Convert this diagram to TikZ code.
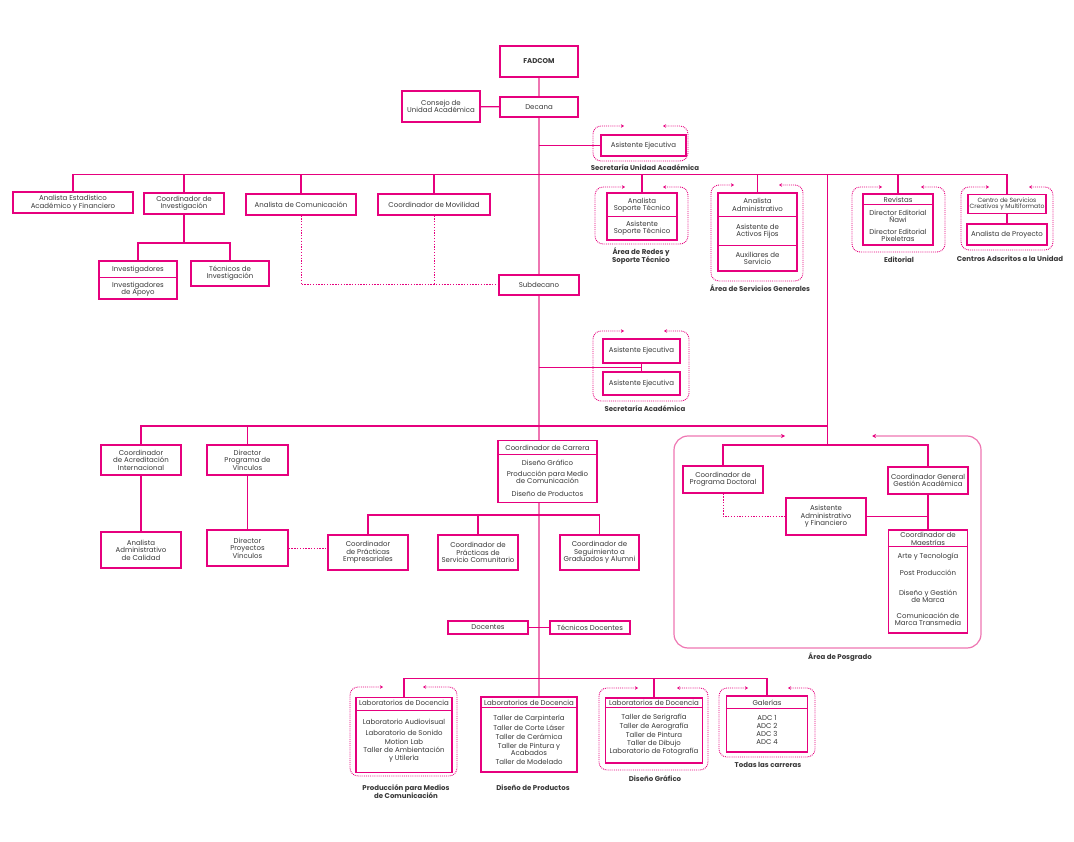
\documentclass[tikz,border=0pt]{standalone}
\usepackage{fontspec}
\setmainfont{Poppins}
\usetikzlibrary{arrows.meta,positioning}
\definecolor{fucsia}{RGB}{230,0,126}
\definecolor{rosa}{RGB}{238,118,178}
\newcommand{\cargo}{\fontsize{7}{7.4}\selectfont}
\newcommand{\cargochico}{\fontsize{6.1}{6.6}\selectfont}
\newcommand{\areafont}{\fontsize{7}{8}\selectfont\bfseries}

\begin{document}
\begin{tikzpicture}[
  x=1pt, y=-1pt,
  every node/.style={font=\cargo, text=black!78},
  puesto/.style={draw=fucsia, line width=1.2pt, fill=white, align=center, inner sep=1pt},
  texto/.style={align=center, inner sep=0pt},
  linea/.style={draw=fucsia, line width=1.1pt},
  tronco/.style={draw=rosa, line width=1.3pt},
  punteado/.style={draw=fucsia, line width=1pt, dash pattern=on 1.3pt off 1.5pt},
  marco/.style={draw=fucsia, line width=0.9pt, densely dotted, rounded corners=8pt, {Stealth[length=3pt,width=3.5pt]}-{Stealth[length=3pt,width=3.5pt]}},
  posgrado/.style={draw=rosa, line width=1.2pt, rounded corners=14pt, {Stealth[length=4pt,width=4pt,color=fucsia]}-{Stealth[length=4pt,width=4pt,color=fucsia]}},
  area/.style={font=\areafont, align=center, inner sep=0pt}
]
  \useasboundingbox (0,0) rectangle (1074,842);

  % Marcos punteados de las areas
  \draw[marco] (624,126) -- (593,126) -- (593,161) -- (688,161) -- (688,126) -- (663,126);
  \draw[marco] (625,187) -- (595,187) -- (595,244) -- (688,244) -- (688,187) -- (663,187);
  \draw[marco] (734,185) -- (711,185) -- (711,281) -- (803,281) -- (803,185) -- (779,185);
  \draw[marco] (882,187) -- (852,187) -- (852,252) -- (945,252) -- (945,187) -- (921,187);
  \draw[marco] (989,187) -- (961,187) -- (961,250) -- (1053,250) -- (1053,187) -- (1029,187);
  \draw[marco] (624,331) -- (593,331) -- (593,401) -- (689,401) -- (689,331) -- (664,331);
  \draw[marco] (383,687) -- (350,687) -- (350,776) -- (457,776) -- (457,687) -- (423,687);
  \draw[marco] (638,688) -- (599,688) -- (599,770) -- (708,770) -- (708,688) -- (677,688);
  \draw[marco] (748,688) -- (719,688) -- (719,757) -- (815,757) -- (815,688) -- (788,688);
  \draw[posgrado] (785,436) -- (674,436) -- (674,648) -- (981,648) -- (981,436) -- (872,436);

  % Decanato
  \node[puesto, minimum width=78, minimum height=31, font=\cargo\bfseries] (fadcom) at (539,61.5) {FADCOM};
  \node[puesto, minimum width=78, minimum height=20] (decana) at (539,107) {Decana};
  \node[puesto, minimum width=78, minimum height=31] (consejo) at (441,106.5) {Consejo de\\Unidad Académica};
  \node[puesto, minimum width=85, minimum height=21] (asisUA) at (643.5,145.5) {Asistente Ejecutiva};
  \node[area] (lblUA) at (645,168) {Secretaría Unidad Académica};

  % Primer nivel
  \node[puesto, minimum width=120, minimum height=21] (estad) at (73,202.5) {Analista Estadístico\\Académico y Financiero};
  \node[puesto, minimum width=80, minimum height=21] (coordInv) at (184,203.5) {Coordinador de\\Investigación};
  \node[puesto, minimum width=110, minimum height=21] (comunic) at (301,204.5) {Analista de Comunicación};
  \node[puesto, minimum width=112, minimum height=21] (movil) at (434,204.5) {Coordinador de Movilidad};

  \node[puesto, minimum width=70, minimum height=47] (redes) at (642,216.5) {};
  \draw[linea] (redes.west) -- (redes.east);
  \node[texto] (redes1) at (642,205) {Analista\\Soporte Técnico};
  \node[texto] (redes2) at (642,228.5) {Asistente\\Soporte Técnico};
  \node[area] (lblRedes) at (641,256) {Área de Redes y\\Soporte Técnico};

  \node[puesto, minimum width=79, minimum height=78] (servicios) at (757.5,232) {};
  \draw[linea] ([yshift=-24]servicios.north west) -- ([yshift=-24]servicios.north east);
  \draw[linea] ([yshift=-53]servicios.north west) -- ([yshift=-53]servicios.north east);
  \node[texto] (serv1) at (757.5,205) {Analista\\Administrativo};
  \node[texto] (serv2) at (757.5,231.5) {Asistente de\\Activos Fijos};
  \node[texto] (serv3) at (757.5,258.5) {Auxiliares de\\Servicio};
  \node[area] (lblServ) at (760,288) {Área de Servicios Generales};

  \node[puesto, minimum width=70, minimum height=51] (editorial) at (898,219.5) {};
  \draw[linea] ([yshift=-11]editorial.north west) -- ([yshift=-11]editorial.north east);
  \node[texto] (edit1) at (898,199.5) {Revistas};
  \node[texto] (edit2) at (898,216.5) {Director Editorial\\Ñawi};
  \node[texto] (edit3) at (898,235.5) {Director Editorial\\Pixeletras};
  \node[area] (lblEdit) at (899,260) {Editorial};

  \node[puesto, minimum width=78, minimum height=19, font=\cargochico] (centros1) at (1007,204) {Centro de Servicios\\Creativos y Multiformato};
  \node[puesto, minimum width=80, minimum height=21] (centros2) at (1007,234.5) {Analista de Proyecto};
  \node[area] (lblCentros) at (1010,259) {Centros Adscritos a la Unidad};

  % Investigacion
  \node[puesto, minimum width=78, minimum height=38] (investig) at (138,280) {};
  \draw[linea] ([yshift=-17]investig.north west) -- ([yshift=-17]investig.north east);
  \node[texto] (inv1) at (138,269.5) {Investigadores};
  \node[texto] (inv2) at (138,289) {Investigadores\\de Apoyo};
  \node[puesto, minimum width=78, minimum height=25] (tecInv) at (230,273.5) {Técnicos de\\Investigación};

  % Subdecanato
  \node[puesto, minimum width=80, minimum height=20] (subdecano) at (539,285) {Subdecano};
  \node[puesto, minimum width=77, minimum height=24] (asisAc1) at (641.5,351) {Asistente Ejecutiva};
  \node[puesto, minimum width=77, minimum height=23] (asisAc2) at (641.5,383.5) {Asistente Ejecutiva};
  \node[area] (lblAc) at (645,409) {Secretaría Académica};

  % Segundo nivel
  \node[puesto, minimum width=80, minimum height=30] (acredit) at (141,460) {Coordinador\\de Acreditación\\Internacional};
  \node[puesto, minimum width=80, minimum height=36] (calidad) at (141,550) {Analista\\Administrativo\\de Calidad};
  \node[puesto, minimum width=81, minimum height=30] (dirVinc) at (247.5,460) {Director\\Programa de\\Vínculos};
  \node[puesto, minimum width=81, minimum height=36] (dirProy) at (247.5,548) {Director\\Proyectos\\Vínculos};

  \node[puesto, minimum width=99, minimum height=62] (carrera) at (547.5,471.5) {};
  \draw[linea] ([yshift=-15]carrera.north west) -- ([yshift=-15]carrera.north east);
  \node[texto] (carr0) at (547.5,448) {Coordinador de Carrera};
  \node[texto] (carr1) at (547.5,462.5) {Diseño Gráfico};
  \node[texto] (carr2) at (547.5,477.5) {Producción para Medio\\de Comunicación};
  \node[texto] (carr3) at (547.5,493.5) {Diseño de Productos};

  \node[puesto, minimum width=80, minimum height=35] (empresariales) at (368,552.5) {Coordinador\\de Prácticas\\Empresariales};
  \node[puesto, minimum width=80, minimum height=35] (comunitario) at (478,552.5) {Coordinador de\\Prácticas de\\Servicio Comunitario};
  \node[puesto, minimum width=79, minimum height=35] (alumni) at (599.5,552.5) {Coordinador de\\Seguimiento a\\Graduados y Alumni};

  \node[puesto, minimum width=80, minimum height=13] (docentes) at (488,627.5) {Docentes};
  \node[puesto, minimum width=80, minimum height=13] (tecDoc) at (590,627.5) {Técnicos Docentes};

  % Laboratorios
  \node[puesto, minimum width=96, minimum height=75] (labProd) at (404,735) {};
  \draw[linea] ([yshift=-13.5]labProd.north west) -- ([yshift=-13.5]labProd.north east);
  \node[texto] (prod0) at (404,703) {Laboratorios de Docencia};
  \node[texto] (prod1) at (404,722) {Laboratorio Audiovisual};
  \node[texto] (prod2) at (404,732.5) {Laboratorio de Sonido};
  \node[texto] (prod3) at (404,742) {Motion Lab};
  \node[texto] (prod4) at (404,754.5) {Taller de Ambientación\\y Utilería};
  \node[area] (lblProd) at (406,792) {Producción para Medios\\de Comunicación};

  \node[puesto, minimum width=96, minimum height=75] (labDP) at (529,734.5) {};
  \draw[linea] ([yshift=-11]labDP.north west) -- ([yshift=-11]labDP.north east);
  \node[texto] (dp0) at (529,702.5) {Laboratorios de Docencia};
  \node[texto] (dp1) at (529,718.5) {Taller de Carpintería};
  \node[texto] (dp2) at (529,727.5) {Taller de Corte Láser};
  \node[texto] (dp3) at (529,737) {Taller de Cerámica};
  \node[texto] (dp4) at (529,749.5) {Taller de Pintura y\\Acabados};
  \node[texto] (dp5) at (529,762) {Taller de Modelado};
  \node[area] (lblDP) at (533,788) {Diseño de Productos};

  \node[puesto, minimum width=97, minimum height=65] (labDG) at (654,730.5) {};
  \draw[linea] ([yshift=-10.5]labDG.north west) -- ([yshift=-10.5]labDG.north east);
  \node[texto] (dg0) at (654,703) {Laboratorios de Docencia};
  \node[texto] (dg1) at (654,717.5) {Taller de Serigrafía};
  \node[texto] (dg2) at (654,726.5) {Taller de Aerografía};
  \node[texto] (dg3) at (654,735) {Taller de Pintura};
  \node[texto] (dg4) at (654,743.5) {Taller de Dibujo};
  \node[texto] (dg5) at (654,752) {Laboratorio de Fotografía};
  \node[area] (lblDG) at (655,779) {Diseño Gráfico};

  \node[puesto, minimum width=81, minimum height=56] (galerias) at (767,724) {};
  \draw[linea] ([yshift=-13]galerias.north west) -- ([yshift=-13]galerias.north east);
  \node[texto] (gal0) at (767,702.5) {Galerías};
  \node[texto] (gal1) at (767,718) {ADC 1};
  \node[texto] (gal2) at (767,726) {ADC 2};
  \node[texto] (gal3) at (767,734) {ADC 3};
  \node[texto] (gal4) at (767,742) {ADC 4};
  \node[area] (lblGal) at (768,765) {Todas las carreras};

  % Area de Posgrado
  \node[puesto, minimum width=80, minimum height=27] (doctoral) at (723,479.5) {Coordinador de\\Programa Doctoral};
  \node[puesto, minimum width=80, minimum height=27] (gestion) at (928,480.5) {Coordinador General\\Gestión Académica};
  \node[puesto, minimum width=80, minimum height=37] (asisAdm) at (826,516.5) {Asistente\\Administrativo\\y Financiero};
  \node[puesto, minimum width=79, minimum height=103] (maestrias) at (928,581.5) {};
  \draw[linea] ([yshift=-17]maestrias.north west) -- ([yshift=-17]maestrias.north east);
  \node[texto] (maes0) at (928,539) {Coordinador de\\Maestrías};
  \node[texto] (maes1) at (928,556.5) {Arte y Tecnología};
  \node[texto] (maes2) at (928,573) {Post Producción};
  \node[texto] (maes3) at (928,596) {Diseño y Gestión\\de Marca};
  \node[texto] (maes4) at (928,619.5) {Comunicación de\\Marca Transmedia};
  \node[area] (lblPos) at (840,657) {Área de Posgrado};

  % Conectores
  \coordinate (jUA) at (539,145.5);
  \coordinate (bus1) at (539,174.5);
  \coordinate (jInv) at (184,243);
  \coordinate (jAc) at (539,367.5);
  \coordinate (bus2) at (539,426);
  \coordinate (pos0) at (827.5,445);
  \coordinate (bus3) at (539,515);
  \coordinate (bus4) at (539,678.5);

  \draw[tronco] (fadcom) -- (decana);
  \draw[tronco] (decana) -- (subdecano);
  \draw[tronco] (subdecano) -- (subdecano |- carrera.north);
  \draw[tronco] (carrera.south -| subdecano) -- (subdecano |- labDP.north);

  \draw[linea] (consejo) -- (decana);
  \draw[linea] (jUA) -- (asisUA);
  \draw[linea] (bus1) -| (estad);
  \draw[linea] (bus1) -| (coordInv);
  \draw[linea] (bus1) -| (comunic);
  \draw[linea] (bus1) -| (movil);
  \draw[linea] (bus1) -| (redes);
  \draw[linea] (bus1) -| (servicios);
  \draw[linea] (bus1) -| (editorial);
  \draw[linea] (bus1) -| (centros1);
  \draw[linea] (bus1) -| (pos0);
  \draw[linea] (centros1) -- (centros2);

  \draw[linea] (coordInv) -- (jInv);
  \draw[linea] (jInv) -| (investig);
  \draw[linea] (jInv) -| (tecInv);
  \draw[punteado] (comunic) |- (subdecano);
  \draw[punteado] (movil) -- (movil |- subdecano);

  \draw[linea] (jAc) -- (jAc -| asisAc1);
  \draw[linea] (asisAc1) -- (asisAc2);

  \draw[linea] (bus2) -| (acredit);
  \draw[linea] (bus2) -| (dirVinc);
  \draw[linea] (bus2) -- (bus2 -| pos0);
  \draw[linea] (acredit) -- (calidad);
  \draw[linea] (dirVinc) -- (dirProy);
  \draw[punteado] (dirProy.east) -- (dirProy.east -| empresariales.west);

  \draw[linea] (bus3) -| (empresariales);
  \draw[linea] (bus3) -| (comunitario);
  \draw[linea] (bus3) -| (alumni);
  \draw[linea] (docentes) -- (tecDoc);

  \draw[linea] (bus4) -| (labProd);
  \draw[linea] (bus4) -| (labDG);
  \draw[linea] (bus4) -| (galerias);

  \draw[linea] (pos0) -| (doctoral);
  \draw[linea] (pos0) -| (gestion);
  \draw[punteado] (doctoral) |- (asisAdm);
  \draw[linea] (gestion) -- (maestrias);
  \draw[linea] (asisAdm) -- (asisAdm -| gestion);

\end{tikzpicture}
\end{document}
